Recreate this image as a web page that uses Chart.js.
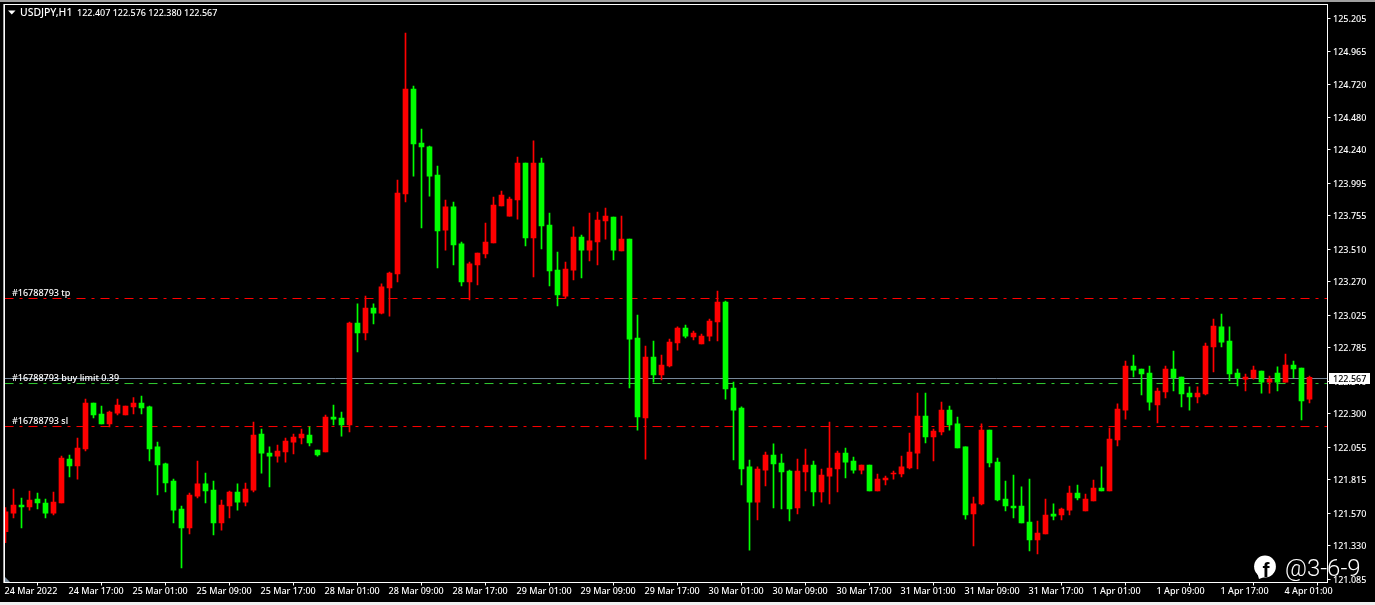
<!DOCTYPE html>
<html><head><meta charset="utf-8"><title>USDJPY,H1</title>
<style>html,body{margin:0;padding:0;background:#000;overflow:hidden}canvas{display:block}</style>
<script src="https://cdn.jsdelivr.net/npm/chart.js@4"></script>
</head><body><canvas id="c" width="1375" height="605"></canvas>
<script>
const opens=[121.433,121.570,121.629,121.615,121.673,121.644,121.570,121.644,121.967,121.916,122.041,122.379,122.298,122.225,122.305,122.291,122.350,122.379,122.350,122.056,
121.931,121.806,121.600,121.460,121.695,121.784,121.739,121.497,121.622,121.725,121.651,121.739,122.151,122.011,121.989,122.019,122.092,122.122,122.144,122.033,
122.019,122.276,122.269,122.217,122.967,122.894,123.077,123.040,123.224,123.327,123.915,124.687,124.290,124.261,124.055,123.650,123.820,123.548,123.268,123.393,
123.474,123.555,123.827,123.753,123.871,124.143,123.592,124.143,123.687,123.356,123.165,123.356,123.599,123.503,123.562,123.717,123.746,123.496,123.584,122.857,
122.269,122.717,122.585,122.651,122.820,122.930,122.864,122.813,122.871,122.974,123.121,122.489,122.342,121.909,121.651,121.886,121.997,121.938,121.879,121.607,
121.872,121.923,121.725,121.842,121.894,122.011,121.953,121.886,121.923,121.732,121.813,121.857,121.857,121.901,122.011,122.283,122.129,122.166,122.327,122.225,
122.056,121.563,121.637,122.180,121.945,121.673,121.622,121.622,121.504,121.372,121.416,121.563,121.556,121.592,121.717,121.585,121.659,121.754,121.732,122.107,
122.327,122.651,122.629,122.599,122.364,122.460,122.629,122.570,122.452,122.423,122.445,122.791,122.938,122.835,122.599,122.555,122.563,122.614,122.533,122.599,
122.533,122.658,122.636,122.407];
const highs=[121.610,121.747,121.681,121.732,121.717,121.673,121.725,121.989,121.997,122.122,122.408,122.379,122.357,122.320,122.408,122.357,122.418,122.430,122.357,122.092,
121.938,121.820,121.622,121.717,121.953,121.864,121.806,121.666,121.732,121.784,121.791,122.239,122.188,122.056,122.070,122.122,122.151,122.188,122.203,122.033,
122.291,122.364,122.313,122.974,123.107,123.165,123.107,123.254,123.342,124.018,125.098,124.709,124.393,124.268,124.121,123.871,123.856,123.562,123.415,123.481,
123.702,123.893,123.937,123.893,124.187,124.143,124.305,124.180,123.775,123.489,123.415,123.673,123.614,123.775,123.783,123.812,123.746,123.753,123.584,123.026,
122.798,122.835,122.732,122.849,122.938,122.952,122.908,122.886,122.996,123.202,123.129,122.533,122.350,121.960,121.909,122.019,122.078,122.004,121.886,121.967,
122.041,121.953,121.894,122.239,122.026,122.048,121.982,121.923,121.923,121.857,121.842,121.879,121.989,122.158,122.452,122.452,122.188,122.386,122.357,122.276,
122.056,121.688,122.225,122.180,121.975,121.806,121.850,121.762,121.820,121.512,121.673,121.637,121.607,121.769,121.776,121.710,121.813,121.909,122.195,122.372,
122.688,122.732,122.629,122.651,122.489,122.651,122.761,122.570,122.497,122.497,122.820,122.996,123.033,122.938,122.629,122.592,122.651,122.614,122.577,122.644,
122.739,122.688,122.636,122.576];
const lows=[121.352,121.534,121.460,121.592,121.600,121.534,121.556,121.644,121.835,121.820,122.026,122.269,122.225,122.203,122.291,122.291,122.298,122.298,121.953,121.703,
121.725,121.497,121.166,121.416,121.681,121.644,121.409,121.445,121.534,121.592,121.622,121.725,121.864,121.762,121.945,121.945,122.004,122.078,122.063,121.989,
122.019,122.217,122.136,122.166,122.754,122.842,122.960,123.033,123.018,123.268,123.856,124.047,123.665,123.900,123.371,123.503,123.393,123.239,123.136,123.246,
123.445,123.555,123.827,123.753,123.731,123.533,123.305,123.511,123.239,123.092,123.148,123.283,123.298,123.423,123.393,123.584,123.430,123.496,122.489,122.180,
121.967,122.533,122.548,122.644,122.768,122.857,122.842,122.813,122.835,122.835,122.408,121.960,121.776,121.298,121.519,121.769,121.607,121.600,121.512,121.563,
121.732,121.622,121.651,121.637,121.725,121.828,121.864,121.857,121.732,121.732,121.776,121.820,121.835,121.894,121.894,122.085,121.953,122.144,122.180,122.048,
121.526,121.328,121.629,121.909,121.659,121.585,121.534,121.497,121.291,121.269,121.416,121.519,121.519,121.556,121.666,121.585,121.659,121.732,121.732,122.063,
122.261,122.570,122.438,122.327,122.232,122.416,122.467,122.350,122.327,122.379,122.438,122.607,122.791,122.541,122.504,122.467,122.555,122.452,122.452,122.467,
122.533,122.563,122.254,122.380];
const closes=[121.580,121.629,121.615,121.666,121.644,121.570,121.651,121.975,121.916,122.048,122.379,122.291,122.225,122.313,122.364,122.357,122.379,122.342,122.041,121.923,
121.791,121.592,121.460,121.703,121.784,121.732,121.497,121.629,121.725,121.651,121.747,122.144,122.011,121.989,122.026,122.100,122.129,122.151,122.085,121.997,
122.276,122.261,122.217,122.967,122.894,123.077,123.040,123.232,123.334,123.922,124.687,124.283,124.261,124.047,123.643,123.820,123.540,123.268,123.401,123.481,
123.562,123.834,123.908,123.878,124.143,123.592,124.143,123.680,123.349,123.173,123.364,123.599,123.503,123.570,123.724,123.753,123.503,123.584,122.849,122.276,
122.717,122.585,122.658,122.827,122.930,122.871,122.893,122.871,122.982,123.121,122.482,122.327,121.894,121.651,121.894,121.997,121.931,121.872,121.600,121.879,
121.923,121.725,121.850,121.901,122.011,121.945,121.886,121.923,121.732,121.820,121.828,121.864,121.909,122.019,122.283,122.129,122.173,122.327,122.217,122.048,
121.556,121.637,122.180,121.938,121.666,121.622,121.607,121.497,121.372,121.423,121.556,121.548,121.600,121.717,121.681,121.673,121.754,121.732,122.114,122.335,
122.651,122.621,122.592,122.386,122.467,122.629,122.563,122.445,122.423,122.452,122.798,122.945,122.827,122.592,122.563,122.570,122.621,122.533,122.555,122.533,
122.658,122.629,122.394,122.567];
const priceTicks=[125.205,124.965,124.720,124.480,124.240,123.995,123.755,123.510,123.270,123.025,122.785,122.540,122.300,122.055,121.815,121.570,121.330,121.085];
const timeLabels=["24 Mar 2022","24 Mar 17:00","25 Mar 01:00","25 Mar 09:00","25 Mar 17:00","28 Mar 01:00","28 Mar 09:00","28 Mar 17:00","29 Mar 01:00","29 Mar 09:00","29 Mar 17:00","30 Mar 01:00","30 Mar 09:00","30 Mar 17:00","31 Mar 01:00","31 Mar 09:00","31 Mar 17:00","1 Apr 01:00","1 Apr 09:00","1 Apr 17:00","4 Apr 01:00"];
const barsPerLabel=8;
const tpLevel=123.147, limitLevel=122.522, slLevel=122.206, bidLevel=122.559;
const bidTag="122.567";
const levelNames=["#16788793 tp","#16788793 buy limit 0.39","#16788793 sl"];
const headerSymbol="USDJPY,H1";
const headerPrices="122.407 122.576 122.380 122.567";
const watermark="@3-6-9";

const RED="#ff0000",GREEN="#00ff00",UI='"Noto Sans"';
const xMin=-0.125,xMax=165.25,yMin=121.0597,yMax=125.3079;
const bull=opens.map((o,i)=>closes[i]>=o);
const colors=bull.map(b=>b?RED:GREEN);
const wicks=opens.map((o,i)=>({x:i,y:[lows[i],highs[i]]}));
const bodies=opens.map((o,i)=>({x:i,y:[Math.min(o,closes[i]),Math.max(o,closes[i])]}));
const level=(v,color,dash)=>({type:'line',data:[{x:xMin,y:v},{x:xMax,y:v}],borderColor:color,borderWidth:1,borderDash:dash,pointRadius:0,order:3,tension:0});
const DD=[9,6,3,6];

const frame={id:'frame',
 beforeDraw(ch){const c=ch.ctx;c.save();c.fillStyle='#000';c.fillRect(0,0,1375,605);
  c.fillStyle='#a0a0a0';c.fillRect(0,0,1375,2);c.fillRect(3,4,1,579);
  c.fillStyle='#f0f0f0';c.fillRect(0,602,1375,3);c.restore();},
 afterDraw(ch){const c=ch.ctx,y=ch.scales.y;c.save();
  c.strokeStyle='#fff';c.lineWidth=1;c.strokeRect(4.5,4.5,1323,578);
  c.fillStyle='#8090a0';c.beginPath();c.moveTo(5,577);c.lineTo(5,582);c.lineTo(10,582);c.closePath();c.fill();
  c.fillStyle='#fff';c.beginPath();c.moveTo(8,10.5);c.lineTo(15.5,10.5);c.lineTo(11.75,14.5);c.closePath();c.fill();
  c.textBaseline='middle';c.textAlign='left';c.fillStyle='#fff';
  c.font='500 10.4px '+UI;c.fillText(headerSymbol,20,13);
  c.font='500 9px '+UI;c.fillText(headerPrices,77,13);
  [tpLevel,bidLevel,slLevel].forEach((v,i)=>{const off=[-5,0,-5][i];c.fillText(levelNames[i],12,y.getPixelForValue(v)+off);});
  c.fillStyle='#fff';c.fillRect(1329,373,41,11);
  c.fillStyle='#000';c.fillText(bidTag,1333,379);
  c.fillStyle='#fff';c.beginPath();c.arc(1265,566.5,10.9,0,Math.PI*2);c.fill();
  c.beginPath();c.moveTo(1257,572);c.lineTo(1259,579);c.lineTo(1267,576);c.closePath();c.fill();
  c.fillStyle='#000';c.font='bold 21px "Liberation Sans"';c.textAlign='center';c.fillText('f',1266,571);
  c.fillStyle='#fff';c.textAlign='left';c.textBaseline='alphabetic';c.font='300 24px Roboto';c.fillText(watermark,1285,576);
  c.restore();}
};

new Chart(document.getElementById('c'),{
 type:'bar',
 data:{datasets:[
  {data:bodies,backgroundColor:colors,barThickness:5,borderWidth:0,order:1,grouped:false},
  {data:wicks,backgroundColor:colors,barThickness:1,borderWidth:0,order:2,grouped:false},
  level(slLevel,RED,DD),level(limitLevel,'#32cd32',DD),level(tpLevel,RED,DD),level(bidLevel,'#778899',[])
 ]},
 plugins:[frame],
 options:{responsive:false,animation:false,devicePixelRatio:1,events:[],
  layout:{autoPadding:false,padding:{left:4.5,top:4.5,right:0,bottom:0}},
  plugins:{legend:{display:false},tooltip:{enabled:false},title:{display:false}},
  scales:{
   x:{type:'linear',min:xMin,max:xMax,offset:false,
    afterBuildTicks(s){s.ticks=timeLabels.map((l,i)=>({value:i*barsPerLabel}));},
    afterFit(s){s.height=605-582.5;s.paddingLeft=0;s.paddingRight=0;s.paddingTop=0;s.paddingBottom=0;},
    grid:{drawOnChartArea:false,color:'#fff',tickLength:3,tickWidth:1},border:{color:'#fff',width:1},
    ticks:{autoSkip:false,maxRotation:0,minRotation:0,align:'start',padding:1,labelOffset:-1,color:'#fff',font:{family:UI,size:9,weight:'500'},
     callback(v){return timeLabels[v/barsPerLabel];}}},
   y:{type:'linear',position:'right',min:yMin,max:yMax,
    afterBuildTicks(s){s.ticks=priceTicks.map(v=>({value:v}));},
    afterFit(s){s.width=1375-1327.5;s.paddingTop=0;s.paddingBottom=0;s.paddingLeft=0;s.paddingRight=0;},
    grid:{drawOnChartArea:false,color:'#fff',tickLength:3,tickWidth:1},border:{color:'#fff',width:1},
    ticks:{autoSkip:false,padding:2.5,labelOffset:1,color:'#fff',font:{family:UI,size:9,weight:'500'},callback(v){return v.toFixed(3);}}}
  }
 }
});
</script></body></html>
